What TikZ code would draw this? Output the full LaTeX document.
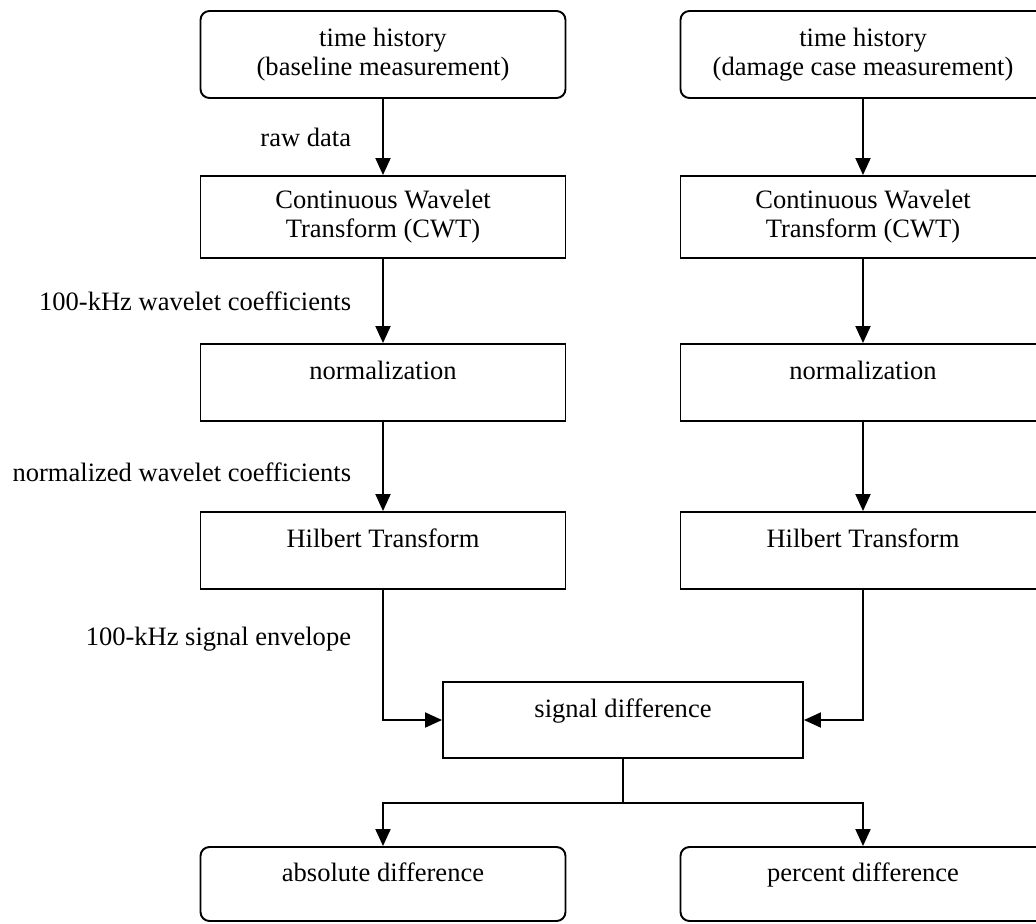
\documentclass[tikz,border=0pt]{standalone}
\usepackage{fontspec}
\setmainfont{Liberation Serif}
\usepackage{tikz}
\usetikzlibrary{arrows.meta,positioning}
\tikzset{
    block/.style={draw, line width=1.1pt, minimum width=7.3cm, align=center, inner sep=0pt},
    rblock/.style={block, rounded corners=0.18cm},
    onerow/.style={text height=0.4cm, text depth=0.52cm},
    flow/.style={->, line width=1.1pt},
    side/.style={left=0.62cm, inner sep=0pt}
}

\begin{document}
\begin{tikzpicture}[font=\fontsize{15.1pt}{16.5pt}\selectfont,
        >={Triangle[length=0.34cm,width=0.3cm]}]
    \useasboundingbox (0,0) rectangle (20.72,-18.46);
    % baseline column
    \node[rblock, minimum height=1.74cm] (histL) at (7.66,-1.09) {time history\\(baseline measurement)};
    \node[block, minimum height=1.64cm] (cwtL) at (7.66,-4.34) {Continuous Wavelet\\Transform (CWT)};
    \node[block, onerow, minimum height=1.54cm] (normL) at (7.66,-7.65) {normalization};
    \node[block, onerow, minimum height=1.54cm] (hilbL) at (7.66,-11.01) {Hilbert Transform};
    % damage case column
    \node[rblock, minimum height=1.74cm] (histR) at (17.26,-1.09) {time history\\(damage case measurement)};
    \node[block, minimum height=1.64cm] (cwtR) at (17.26,-4.34) {Continuous Wavelet\\Transform (CWT)};
    \node[block, onerow, minimum height=1.54cm] (normR) at (17.26,-7.65) {normalization};
    \node[block, onerow, minimum height=1.54cm] (hilbR) at (17.26,-11.01) {Hilbert Transform};
    % comparison
    \node[block, onerow, minimum width=7.2cm, minimum height=1.52cm] (diff) at (12.46,-14.4) {signal difference};
    \node[rblock, onerow, minimum height=1.48cm] (absd) at (7.66,-17.68) {absolute difference};
    \node[rblock, onerow, minimum height=1.48cm] (pctd) at (17.26,-17.68) {percent difference};
    \coordinate (fork) at ([yshift=-0.88cm]diff.south);

    \draw[flow] (histL) -- node[side] {raw data} (cwtL);
    \draw[flow] (cwtL) -- node[side] {100-kHz wavelet coefficients} (normL);
    \draw[flow] (normL) -- node[side, pos=0.56] {normalized wavelet coefficients} (hilbL);
    \draw[flow] (hilbL.south) |- node[side, pos=0.19] {100-kHz signal envelope} (diff.west);
    \draw[flow] (histR) -- (cwtR);
    \draw[flow] (cwtR) -- (normR);
    \draw[flow] (normR) -- (hilbR);
    \draw[flow] (hilbR.south) |- (diff.east);
    \draw[line width=1.1pt] (diff.south) -- (fork);
    \draw[flow] (fork) -| (absd.north);
    \draw[flow] (fork) -| (pctd.north);
\end{tikzpicture}
\end{document}
